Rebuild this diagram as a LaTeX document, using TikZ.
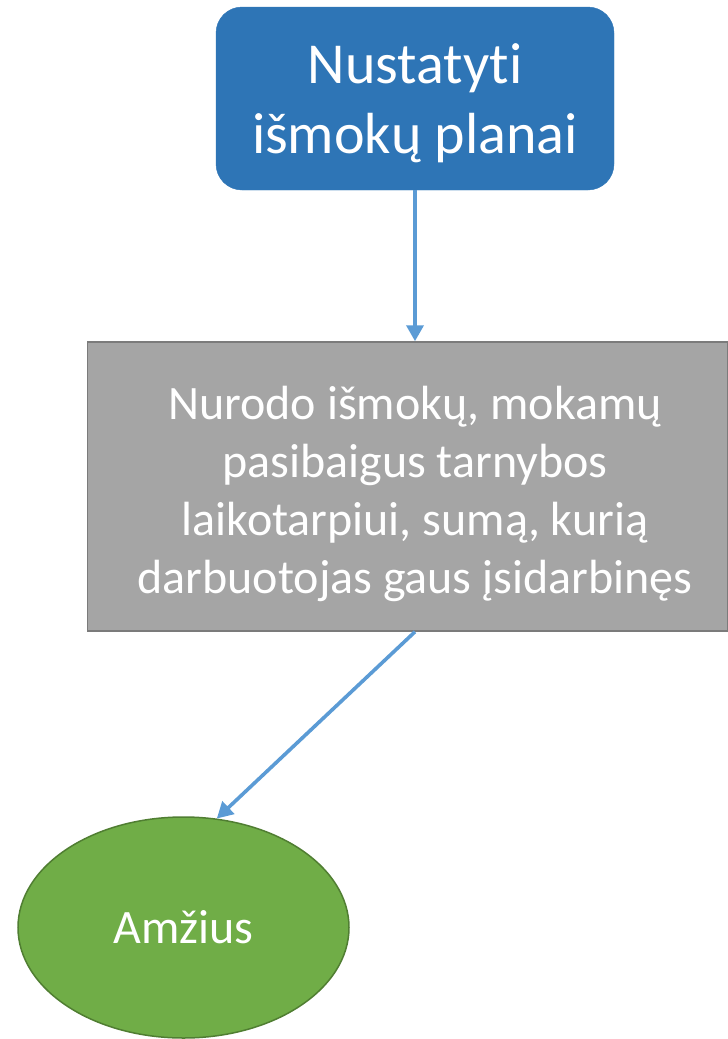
\documentclass[tikz,border=0pt]{standalone}
\usepackage{fontspec}
\setmainfont{Carlito}[Ligatures=NoCommon]
\usetikzlibrary{arrows.meta, positioning, shapes.geometric}

\definecolor{planblue}{HTML}{2E75B6}
\definecolor{linkblue}{HTML}{5B9BD5}
\definecolor{boxgray}{HTML}{A5A5A5}
\definecolor{edgegray}{HTML}{7B7B7B}
\definecolor{agegreen}{HTML}{70AD47}
\definecolor{edgegreen}{HTML}{507E32}

\begin{document}
\begin{tikzpicture}[
      x=1pt, y=-1pt,
      plan/.style={draw=planblue, fill=planblue, rounded corners=26pt,
                   minimum width=398pt, minimum height=183pt, inner sep=0pt},
      plantext/.style={text=white, align=center, inner sep=0pt,
                       font=\fontsize{58}{70}\selectfont},
      note/.style={draw=edgegray, line width=1.5pt, fill=boxgray,
                   minimum width=640pt, minimum height=289pt, inner sep=0pt},
      notetext/.style={text=white, align=center, inner sep=0pt,
                       font=\fontsize{48}{58}\selectfont},
      age/.style={ellipse, draw=edgegreen, line width=1.5pt, fill=agegreen,
                  minimum width=331pt, minimum height=221pt, inner sep=0pt,
                  text=white, font=\fontsize{48}{56}\selectfont},
      link/.style={draw=linkblue, line width=3.6pt,
                   -{Triangle[length=16pt, width=17pt]}}]

    % page frame (pixels of the reference)
    \useasboundingbox (0,0) rectangle (728,1039);

    % === boxes ===
    \node[plan] (plans) at (415,98.5) {};
    \node[plantext, yshift=-5pt] (planstext) at (plans.center)
        {Nustatyti\\išmokų planai};
    \node[note] (sum) at (407.5,486.5) {};
    \node[notetext, yshift=-7pt] (sumtext) at (sum.center -| plans.south)
        {Nurodo išmokų, mokamų\\pasibaigus tarnybos\\laikotarpiui, sumą, kurią\\darbuotojas gaus įsidarbinęs};
    \node[age] (age) at (183.5,927.5) {Amžius};

    % === arrows ===
    \draw[link] (plans.south) -- (sum.north -| plans.south);
    \draw[link] (sum.south -| plans.south) -- (age.73);

\end{tikzpicture}
\end{document}
